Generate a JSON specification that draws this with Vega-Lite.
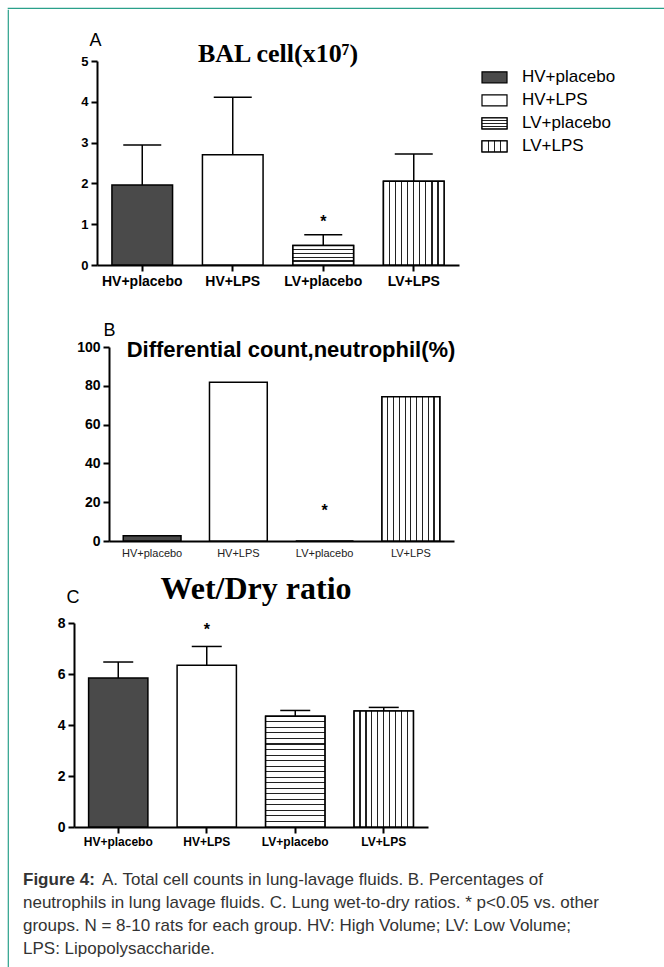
{
  "$schema": "https://vega.github.io/schema/vega-lite/v6.json",
  "padding": {"left": 7, "top": 7, "right": 0, "bottom": 0},
  "background": "white",
  "datasets": {"one": [{}]},
  "config": {
    "view": {"stroke": null},
    "font": "Liberation Sans",
    "concat": {"spacing": 0},
    "axis": {"domainColor": "black", "domainWidth": 2, "tickColor": "black", "tickWidth": 2, "tickSize": 6, "labelColor": "black", "labelFont": "Liberation Sans", "labelFontWeight": "bold", "labelPadding": 3, "labelOverlap": false, "grid": false, "titleColor": "black", "titleFont": "Liberation Sans", "titleFontWeight": "normal", "titleFontSize": 18}
  },
  "vconcat": [
    {"width": 656, "height": 0.01, "view": {"stroke": "#2aa08a", "strokeWidth": 1.2}, "data": {"name": "one"}, "mark": {"type": "text", "fontSize": 0}, "encoding": {"text": {"value": ""}}},
    {"hconcat": [
      {"width": 0.01, "height": 960, "view": {"stroke": "#2aa08a", "strokeWidth": 1.2}, "data": {"name": "one"}, "mark": {"type": "text", "fontSize": 0}, "encoding": {"text": {"value": ""}}},
      {"resolve": {"scale": {"fill": "independent"}, "legend": {"fill": "independent"}},
       "vconcat": [
        {"width": 0.01, "height": 21, "data": {"name": "one"}, "mark": {"type": "text", "fontSize": 0}, "encoding": {"text": {"value": ""}}},
        {"resolve": {"scale": {"fill": "independent"}, "legend": {"fill": "independent"}},
         "hconcat": [
          {"width": 70.6, "height": 0.01, "data": {"name": "one"}, "mark": {"type": "text", "fontSize": 0}, "encoding": {"text": {"value": ""}}},
          {
            "width": 362, "height": 204,
            "title": {"text": "BAL cell(x10\u2077)", "font": "Liberation Serif", "fontSize": 26, "fontWeight": "bold", "color": "black", "anchor": "middle", "baseline": "alphabetic", "offset": -56.6},
            "data": {"values": [
              {"group": "HV+placebo", "mean": 1.96, "upper": 2.94},
              {"group": "HV+LPS", "mean": 2.7, "upper": 4.11},
              {"group": "LV+placebo", "mean": 0.48, "upper": 0.74, "star": 1.15},
              {"group": "LV+LPS", "mean": 2.05, "upper": 2.72}
            ]},
            "encoding": {
              "x": {"field": "group", "type": "nominal", "sort": null, "scale": {"domain": ["HV+placebo", "HV+LPS", "LV+placebo", "LV+LPS"], "paddingInner": 0.33, "paddingOuter": 0.165},
                    "axis": {"title": null, "labelAngle": 0, "labelFontSize": 14}}
            },
            "layer": [
              {"mark": {"type": "rule", "color": "black", "strokeWidth": 1.5},
               "encoding": {
                 "y": {"field": "mean", "type": "quantitative", "scale": {"domain": [0, 5], "nice": false},
                       "axis": {"values": [0, 1, 2, 3, 4, 5], "labelOverlap": false, "title": "A", "titleAngle": 0, "titleX": -2, "titleY": -16, "titleAlign": "center", "titleBaseline": "alphabetic", "labelFontSize": 13}},
                 "y2": {"field": "upper"}}},
              {"mark": {"type": "tick", "orient": "horizontal", "size": 38, "thickness": 1.5, "color": "black", "opacity": 1},
               "encoding": {"y": {"field": "upper", "type": "quantitative"}}},
              {"mark": {"type": "bar", "stroke": "black", "strokeWidth": 1.5},
               "encoding": {
                 "y": {"field": "mean", "type": "quantitative"},
                 "fill": {"field": "group", "type": "nominal", "sort": null, "legend": null,
                   "scale": {"domain": ["HV+placebo", "HV+LPS", "LV+placebo", "LV+LPS"], "range": ["#4a4a4a", "#ffffff", "#ffffff", "#ffffff"]}}}},
              {"transform": [{"filter": "datum.group == 'LV+placebo'"}],
               "mark": {"type": "bar", "stroke": "black", "strokeWidth": 1.5,
                 "fill": {"gradient": "linear", "x1": 0, "y1": 0, "x2": 0, "y2": 1, "stops": [{"offset": 0, "color": "#fff"}, {"offset": 0.17, "color": "#fff"}, {"offset": 0.17, "color": "#222"}, {"offset": 0.23, "color": "#222"}, {"offset": 0.23, "color": "#fff"}, {"offset": 0.37, "color": "#fff"}, {"offset": 0.37, "color": "#222"}, {"offset": 0.43, "color": "#222"}, {"offset": 0.43, "color": "#fff"}, {"offset": 0.57, "color": "#fff"}, {"offset": 0.57, "color": "#222"}, {"offset": 0.63, "color": "#222"}, {"offset": 0.63, "color": "#fff"}, {"offset": 0.77, "color": "#fff"}, {"offset": 0.77, "color": "#222"}, {"offset": 0.83, "color": "#222"}, {"offset": 0.83, "color": "#fff"}, {"offset": 1, "color": "#fff"}]}},
               "encoding": {"y": {"field": "mean", "type": "quantitative"}}},
              {"transform": [{"filter": "datum.group == 'LV+LPS'"}],
               "mark": {"type": "bar", "stroke": "black", "strokeWidth": 1.5,
                 "fill": {"gradient": "linear", "x1": 0, "y1": 0, "x2": 1, "y2": 0, "stops": [{"offset": 0, "color": "#fff"}, {"offset": 0.09, "color": "#fff"}, {"offset": 0.09, "color": "#222"}, {"offset": 0.11, "color": "#222"}, {"offset": 0.11, "color": "#fff"}, {"offset": 0.19, "color": "#fff"}, {"offset": 0.19, "color": "#222"}, {"offset": 0.21, "color": "#222"}, {"offset": 0.21, "color": "#fff"}, {"offset": 0.29, "color": "#fff"}, {"offset": 0.29, "color": "#222"}, {"offset": 0.31, "color": "#222"}, {"offset": 0.31, "color": "#fff"}, {"offset": 0.39, "color": "#fff"}, {"offset": 0.39, "color": "#222"}, {"offset": 0.41, "color": "#222"}, {"offset": 0.41, "color": "#fff"}, {"offset": 0.49, "color": "#fff"}, {"offset": 0.49, "color": "#222"}, {"offset": 0.51, "color": "#222"}, {"offset": 0.51, "color": "#fff"}, {"offset": 0.59, "color": "#fff"}, {"offset": 0.59, "color": "#222"}, {"offset": 0.61, "color": "#222"}, {"offset": 0.61, "color": "#fff"}, {"offset": 0.69, "color": "#fff"}, {"offset": 0.69, "color": "#222"}, {"offset": 0.71, "color": "#222"}, {"offset": 0.71, "color": "#fff"}, {"offset": 0.79, "color": "#fff"}, {"offset": 0.79, "color": "#222"}, {"offset": 0.81, "color": "#222"}, {"offset": 0.81, "color": "#fff"}, {"offset": 0.89, "color": "#fff"}, {"offset": 0.89, "color": "#222"}, {"offset": 0.91, "color": "#222"}, {"offset": 0.91, "color": "#fff"}, {"offset": 1, "color": "#fff"}]}},
               "encoding": {"y": {"field": "mean", "type": "quantitative"}}},
              {"mark": {"type": "text", "text": "*", "fontSize": 16, "fontWeight": "bold", "baseline": "middle", "dy": 4, "color": "black"},
               "encoding": {"y": {"field": "star", "type": "quantitative"}}}
            ]
          },
          {"width": 22, "height": 0.01, "data": {"name": "one"}, "mark": {"type": "text", "fontSize": 0}, "encoding": {"text": {"value": ""}}},
          {
            "width": 25, "height": 101.6,
            "data": {"values": [{"group": "HV+placebo"}, {"group": "HV+LPS"}, {"group": "LV+placebo"}, {"group": "LV+LPS"}]},
            "encoding": {"y": {"field": "group", "type": "nominal", "sort": null, "scale": {"domain": ["HV+placebo", "HV+LPS", "LV+placebo", "LV+LPS"], "paddingInner": 0.52, "paddingOuter": 0.469}, "axis": null}},
            "layer": [
              {"mark": {"type": "bar", "stroke": "black", "strokeWidth": 1.2},
               "encoding": {"fill": {"field": "group", "type": "nominal", "sort": null, "legend": null, "scale": {"domain": ["HV+placebo", "HV+LPS", "LV+placebo", "LV+LPS"], "range": ["#4a4a4a", "#ffffff", "#ffffff", "#ffffff"]}}}},
              {"transform": [{"filter": "datum.group == 'LV+placebo'"}],
               "mark": {"type": "bar", "stroke": "black", "strokeWidth": 1.2,
                 "fill": {"gradient": "linear", "x1": 0, "y1": 0, "x2": 0, "y2": 1, "stops": [{"offset": 0, "color": "#fff"}, {"offset": 0.2, "color": "#fff"}, {"offset": 0.2, "color": "#222"}, {"offset": 0.3, "color": "#222"}, {"offset": 0.3, "color": "#fff"}, {"offset": 0.45, "color": "#fff"}, {"offset": 0.45, "color": "#222"}, {"offset": 0.55, "color": "#222"}, {"offset": 0.55, "color": "#fff"}, {"offset": 0.7, "color": "#fff"}, {"offset": 0.7, "color": "#222"}, {"offset": 0.8, "color": "#222"}, {"offset": 0.8, "color": "#fff"}, {"offset": 1, "color": "#fff"}]}}},
              {"transform": [{"filter": "datum.group == 'LV+LPS'"}],
               "mark": {"type": "bar", "stroke": "black", "strokeWidth": 1.2,
                 "fill": {"gradient": "linear", "x1": 0, "y1": 0, "x2": 1, "y2": 0, "stops": [{"offset": 0, "color": "#fff"}, {"offset": 0.23, "color": "#fff"}, {"offset": 0.23, "color": "#222"}, {"offset": 0.27, "color": "#222"}, {"offset": 0.27, "color": "#fff"}, {"offset": 0.48, "color": "#fff"}, {"offset": 0.48, "color": "#222"}, {"offset": 0.52, "color": "#222"}, {"offset": 0.52, "color": "#fff"}, {"offset": 0.73, "color": "#fff"}, {"offset": 0.73, "color": "#222"}, {"offset": 0.77, "color": "#222"}, {"offset": 0.77, "color": "#fff"}, {"offset": 1, "color": "#fff"}]}}},
              {"mark": {"type": "text", "align": "left", "baseline": "middle", "dx": 27.5, "fontSize": 17, "font": "Liberation Sans", "color": "black"},
               "encoding": {"text": {"field": "group"}}}
            ]
          }
        ]},
        {"width": 0.01, "height": 32.2, "data": {"name": "one"}, "mark": {"type": "text", "fontSize": 0}, "encoding": {"text": {"value": ""}}},
        {"resolve": {"scale": {"fill": "independent"}, "legend": {"fill": "independent"}},
         "hconcat": [
          {"width": 67, "height": 0.01, "data": {"name": "one"}, "mark": {"type": "text", "fontSize": 0}, "encoding": {"text": {"value": ""}}},
          {
            "width": 345, "height": 194,
            "title": {"text": "Differential count,neutrophil(%)", "font": "Liberation Sans", "fontSize": 22, "fontWeight": "bold", "color": "black", "anchor": "middle", "baseline": "alphabetic", "offset": -58, "dx": 9.5},
            "data": {"values": [
              {"group": "HV+placebo", "value": 2.7},
              {"group": "HV+LPS", "value": 81.8},
              {"group": "LV+placebo", "value": 0, "star": 17.7},
              {"group": "LV+LPS", "value": 74.4}
            ]},
            "encoding": {
              "x": {"field": "group", "type": "nominal", "sort": null, "scale": {"domain": ["HV+placebo", "HV+LPS", "LV+placebo", "LV+LPS"], "paddingInner": 0.33, "paddingOuter": 0.165},
                    "axis": {"title": null, "labelAngle": 0, "labelFontSize": 11, "labelFontWeight": "normal", "labelColor": "#222", "ticks": false, "tickSize": 0, "labelPadding": 6}}
            },
            "layer": [
              {"mark": {"type": "bar", "stroke": "black", "strokeWidth": 1.5},
               "encoding": {
                 "y": {"field": "value", "type": "quantitative", "scale": {"domain": [0, 100], "nice": false},
                       "axis": {"values": [0, 20, 40, 60, 80, 100], "tickCount": 6, "labelOverlap": false, "title": "B", "titleAngle": 0, "titleX": 0, "titleY": -11.7, "titleAlign": "center", "titleBaseline": "alphabetic", "labelFontSize": 14}},
                 "fill": {"field": "group", "type": "nominal", "sort": null, "legend": null,
                   "scale": {"domain": ["HV+placebo", "HV+LPS", "LV+placebo", "LV+LPS"], "range": ["#4a4a4a", "#ffffff", "#ffffff", "#ffffff"]}}}},
              {"transform": [{"filter": "datum.group == 'LV+LPS'"}],
               "mark": {"type": "bar", "stroke": "black", "strokeWidth": 1.5,
                 "fill": {"gradient": "linear", "x1": 0, "y1": 0, "x2": 1, "y2": 0, "stops": [{"offset": 0, "color": "#fff"}, {"offset": 0.09, "color": "#fff"}, {"offset": 0.09, "color": "#222"}, {"offset": 0.11, "color": "#222"}, {"offset": 0.11, "color": "#fff"}, {"offset": 0.19, "color": "#fff"}, {"offset": 0.19, "color": "#222"}, {"offset": 0.21, "color": "#222"}, {"offset": 0.21, "color": "#fff"}, {"offset": 0.29, "color": "#fff"}, {"offset": 0.29, "color": "#222"}, {"offset": 0.31, "color": "#222"}, {"offset": 0.31, "color": "#fff"}, {"offset": 0.39, "color": "#fff"}, {"offset": 0.39, "color": "#222"}, {"offset": 0.41, "color": "#222"}, {"offset": 0.41, "color": "#fff"}, {"offset": 0.49, "color": "#fff"}, {"offset": 0.49, "color": "#222"}, {"offset": 0.51, "color": "#222"}, {"offset": 0.51, "color": "#fff"}, {"offset": 0.59, "color": "#fff"}, {"offset": 0.59, "color": "#222"}, {"offset": 0.61, "color": "#222"}, {"offset": 0.61, "color": "#fff"}, {"offset": 0.69, "color": "#fff"}, {"offset": 0.69, "color": "#222"}, {"offset": 0.71, "color": "#222"}, {"offset": 0.71, "color": "#fff"}, {"offset": 0.79, "color": "#fff"}, {"offset": 0.79, "color": "#222"}, {"offset": 0.81, "color": "#222"}, {"offset": 0.81, "color": "#fff"}, {"offset": 0.89, "color": "#fff"}, {"offset": 0.89, "color": "#222"}, {"offset": 0.91, "color": "#222"}, {"offset": 0.91, "color": "#fff"}, {"offset": 1, "color": "#fff"}]}},
               "encoding": {"y": {"field": "value", "type": "quantitative"}}},
              {"mark": {"type": "text", "text": "*", "fontSize": 16, "fontWeight": "bold", "baseline": "middle", "dy": 4, "color": "black"},
               "encoding": {"y": {"field": "star", "type": "quantitative"}}}
            ]
          }
        ]},
        {"width": 0.01, "height": 15, "data": {"name": "one"}, "mark": {"type": "text", "fontSize": 0}, "encoding": {"text": {"value": ""}}},
        {"resolve": {"scale": {"fill": "independent"}, "legend": {"fill": "independent"}},
         "hconcat": [
          {"width": 47.6, "height": 0.01, "data": {"name": "one"}, "mark": {"type": "text", "fontSize": 0}, "encoding": {"text": {"value": ""}}},
          {
            "width": 354, "height": 204,
            "title": {"text": "Wet/Dry ratio", "font": "Liberation Serif", "fontSize": 32, "fontWeight": "bold", "color": "black", "anchor": "middle", "baseline": "alphabetic", "offset": -42.8, "dx": 5},
            "data": {"values": [
              {"group": "HV+placebo", "mean": 5.84, "upper": 6.47},
              {"group": "HV+LPS", "mean": 6.34, "upper": 7.08, "star": 7.87},
              {"group": "LV+placebo", "mean": 4.34, "upper": 4.57},
              {"group": "LV+LPS", "mean": 4.55, "upper": 4.69}
            ]},
            "encoding": {
              "x": {"field": "group", "type": "nominal", "sort": null, "scale": {"domain": ["HV+placebo", "HV+LPS", "LV+placebo", "LV+LPS"], "paddingInner": 0.33, "paddingOuter": 0.165},
                    "axis": {"title": null, "labelAngle": 0, "labelFontSize": 12}}
            },
            "layer": [
              {"mark": {"type": "rule", "color": "black", "strokeWidth": 1.5},
               "encoding": {
                 "y": {"field": "mean", "type": "quantitative", "scale": {"domain": [0, 8], "nice": false},
                       "axis": {"values": [0, 2, 4, 6, 8], "labelOverlap": false, "title": "C", "titleAngle": 0, "titleX": -1.6, "titleY": -20.6, "titleAlign": "center", "titleBaseline": "alphabetic", "labelFontSize": 14}},
                 "y2": {"field": "upper"}}},
              {"mark": {"type": "tick", "orient": "horizontal", "size": 30, "thickness": 1.5, "color": "black", "opacity": 1},
               "encoding": {"y": {"field": "upper", "type": "quantitative"}}},
              {"mark": {"type": "bar", "stroke": "black", "strokeWidth": 1.5},
               "encoding": {
                 "y": {"field": "mean", "type": "quantitative"},
                 "fill": {"field": "group", "type": "nominal", "sort": null, "legend": null,
                   "scale": {"domain": ["HV+placebo", "HV+LPS", "LV+placebo", "LV+LPS"], "range": ["#4a4a4a", "#ffffff", "#ffffff", "#ffffff"]}}}},
              {"transform": [{"filter": "datum.group == 'LV+placebo'"}],
               "mark": {"type": "bar", "stroke": "black", "strokeWidth": 1.5,
                 "fill": {"gradient": "linear", "x1": 0, "y1": 0, "x2": 0, "y2": 1, "stops": [{"offset": 0, "color": "#fff"}, {"offset": 0.045, "color": "#fff"}, {"offset": 0.045, "color": "#222"}, {"offset": 0.055, "color": "#222"}, {"offset": 0.055, "color": "#fff"}, {"offset": 0.095, "color": "#fff"}, {"offset": 0.095, "color": "#222"}, {"offset": 0.105, "color": "#222"}, {"offset": 0.105, "color": "#fff"}, {"offset": 0.145, "color": "#fff"}, {"offset": 0.145, "color": "#222"}, {"offset": 0.155, "color": "#222"}, {"offset": 0.155, "color": "#fff"}, {"offset": 0.195, "color": "#fff"}, {"offset": 0.195, "color": "#222"}, {"offset": 0.205, "color": "#222"}, {"offset": 0.205, "color": "#fff"}, {"offset": 0.245, "color": "#fff"}, {"offset": 0.245, "color": "#222"}, {"offset": 0.255, "color": "#222"}, {"offset": 0.255, "color": "#fff"}, {"offset": 0.295, "color": "#fff"}, {"offset": 0.295, "color": "#222"}, {"offset": 0.305, "color": "#222"}, {"offset": 0.305, "color": "#fff"}, {"offset": 0.345, "color": "#fff"}, {"offset": 0.345, "color": "#222"}, {"offset": 0.355, "color": "#222"}, {"offset": 0.355, "color": "#fff"}, {"offset": 0.395, "color": "#fff"}, {"offset": 0.395, "color": "#222"}, {"offset": 0.405, "color": "#222"}, {"offset": 0.405, "color": "#fff"}, {"offset": 0.445, "color": "#fff"}, {"offset": 0.445, "color": "#222"}, {"offset": 0.455, "color": "#222"}, {"offset": 0.455, "color": "#fff"}, {"offset": 0.495, "color": "#fff"}, {"offset": 0.495, "color": "#222"}, {"offset": 0.505, "color": "#222"}, {"offset": 0.505, "color": "#fff"}, {"offset": 0.545, "color": "#fff"}, {"offset": 0.545, "color": "#222"}, {"offset": 0.555, "color": "#222"}, {"offset": 0.555, "color": "#fff"}, {"offset": 0.595, "color": "#fff"}, {"offset": 0.595, "color": "#222"}, {"offset": 0.605, "color": "#222"}, {"offset": 0.605, "color": "#fff"}, {"offset": 0.645, "color": "#fff"}, {"offset": 0.645, "color": "#222"}, {"offset": 0.655, "color": "#222"}, {"offset": 0.655, "color": "#fff"}, {"offset": 0.695, "color": "#fff"}, {"offset": 0.695, "color": "#222"}, {"offset": 0.705, "color": "#222"}, {"offset": 0.705, "color": "#fff"}, {"offset": 0.745, "color": "#fff"}, {"offset": 0.745, "color": "#222"}, {"offset": 0.755, "color": "#222"}, {"offset": 0.755, "color": "#fff"}, {"offset": 0.795, "color": "#fff"}, {"offset": 0.795, "color": "#222"}, {"offset": 0.805, "color": "#222"}, {"offset": 0.805, "color": "#fff"}, {"offset": 0.845, "color": "#fff"}, {"offset": 0.845, "color": "#222"}, {"offset": 0.855, "color": "#222"}, {"offset": 0.855, "color": "#fff"}, {"offset": 0.895, "color": "#fff"}, {"offset": 0.895, "color": "#222"}, {"offset": 0.905, "color": "#222"}, {"offset": 0.905, "color": "#fff"}, {"offset": 0.945, "color": "#fff"}, {"offset": 0.945, "color": "#222"}, {"offset": 0.955, "color": "#222"}, {"offset": 0.955, "color": "#fff"}, {"offset": 1, "color": "#fff"}]}},
               "encoding": {"y": {"field": "mean", "type": "quantitative"}}},
              {"transform": [{"filter": "datum.group == 'LV+LPS'"}],
               "mark": {"type": "bar", "stroke": "black", "strokeWidth": 1.5,
                 "fill": {"gradient": "linear", "x1": 0, "y1": 0, "x2": 1, "y2": 0, "stops": [{"offset": 0, "color": "#fff"}, {"offset": 0.09, "color": "#fff"}, {"offset": 0.09, "color": "#222"}, {"offset": 0.11, "color": "#222"}, {"offset": 0.11, "color": "#fff"}, {"offset": 0.19, "color": "#fff"}, {"offset": 0.19, "color": "#222"}, {"offset": 0.21, "color": "#222"}, {"offset": 0.21, "color": "#fff"}, {"offset": 0.29, "color": "#fff"}, {"offset": 0.29, "color": "#222"}, {"offset": 0.31, "color": "#222"}, {"offset": 0.31, "color": "#fff"}, {"offset": 0.39, "color": "#fff"}, {"offset": 0.39, "color": "#222"}, {"offset": 0.41, "color": "#222"}, {"offset": 0.41, "color": "#fff"}, {"offset": 0.49, "color": "#fff"}, {"offset": 0.49, "color": "#222"}, {"offset": 0.51, "color": "#222"}, {"offset": 0.51, "color": "#fff"}, {"offset": 0.59, "color": "#fff"}, {"offset": 0.59, "color": "#222"}, {"offset": 0.61, "color": "#222"}, {"offset": 0.61, "color": "#fff"}, {"offset": 0.69, "color": "#fff"}, {"offset": 0.69, "color": "#222"}, {"offset": 0.71, "color": "#222"}, {"offset": 0.71, "color": "#fff"}, {"offset": 0.79, "color": "#fff"}, {"offset": 0.79, "color": "#222"}, {"offset": 0.81, "color": "#222"}, {"offset": 0.81, "color": "#fff"}, {"offset": 0.89, "color": "#fff"}, {"offset": 0.89, "color": "#222"}, {"offset": 0.91, "color": "#222"}, {"offset": 0.91, "color": "#fff"}, {"offset": 1, "color": "#fff"}]}},
               "encoding": {"y": {"field": "mean", "type": "quantitative"}}},
              {"mark": {"type": "text", "text": "*", "fontSize": 16, "fontWeight": "bold", "baseline": "middle", "dy": 4, "color": "black"},
               "encoding": {"y": {"field": "star", "type": "quantitative"}}}
            ]
          }
        ]},
        {"width": 0.01, "height": 23.9, "data": {"name": "one"}, "mark": {"type": "text", "fontSize": 0}, "encoding": {"text": {"value": ""}}},
        {"hconcat": [
          {"width": 13.5, "height": 0.01, "data": {"name": "one"}, "mark": {"type": "text", "fontSize": 0}, "encoding": {"text": {"value": ""}}},
          {
            "width": 0.01, "height": 69,
            "data": {"values": [
              {"line": 1, "part": "head", "text": "Figure 4:"},
              {"line": 1, "part": "first", "text": "A. Total cell counts in lung-lavage fluids. B. Percentages of"},
              {"line": 2, "part": "rest", "text": "neutrophils in lung lavage fluids. C. Lung wet-to-dry ratios. * p<0.05 vs. other"},
              {"line": 3, "part": "rest", "text": "groups. N = 8-10 rats for each group. HV: High Volume; LV: Low Volume;"},
              {"line": 4, "part": "rest", "text": "LPS: Lipopolysaccharide."}
            ]},
            "encoding": {
              "y": {"field": "line", "type": "ordinal", "scale": {"type": "point", "padding": 0}, "axis": null},
              "text": {"field": "text"}
            },
            "layer": [
              {"transform": [{"filter": "datum.part == 'head'"}], "mark": {"type": "text", "align": "left", "baseline": "middle", "font": "Liberation Sans", "fontSize": 17, "fontWeight": "bold", "color": "#333"}},
              {"transform": [{"filter": "datum.part == 'first'"}], "mark": {"type": "text", "align": "left", "baseline": "middle", "font": "Liberation Sans", "fontSize": 17, "color": "#333", "dx": 79}},
              {"transform": [{"filter": "datum.part == 'rest'"}], "mark": {"type": "text", "align": "left", "baseline": "middle", "font": "Liberation Sans", "fontSize": 17, "color": "#333"}}
            ]
          }
        ]}
      ]}
    ]}
  ]
}
